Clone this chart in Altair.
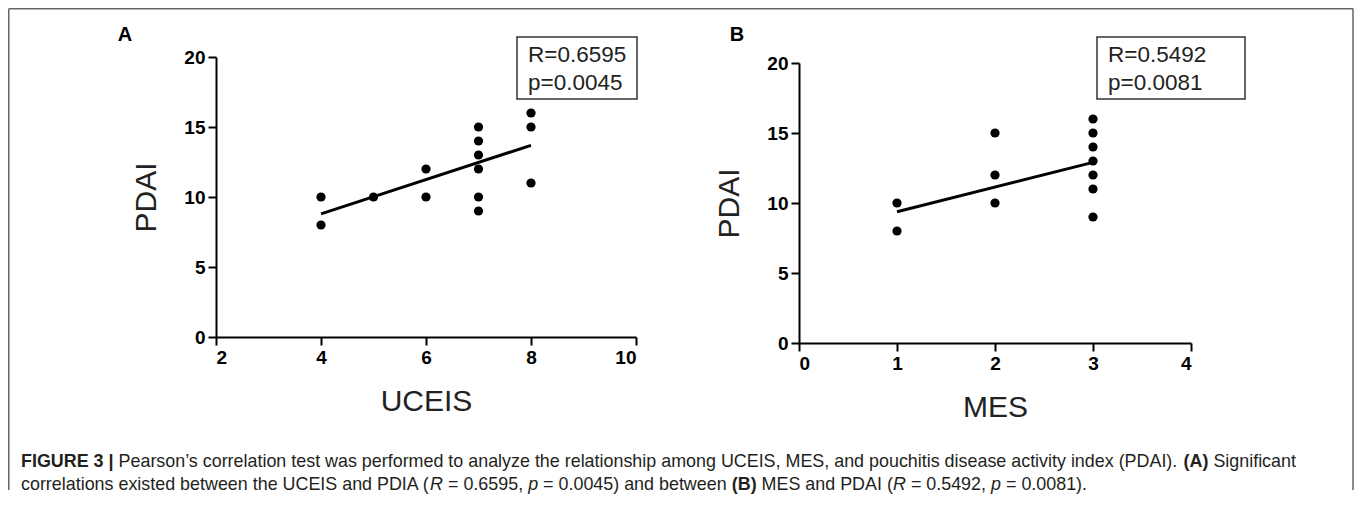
import altair as alt
import pandas as pd

# ---------------- data ----------------
uceis = [4, 4, 5, 6, 6, 7, 7, 7, 7, 7, 7, 8, 8, 8]
pdai_a = [10, 8, 10, 12, 10, 15, 14, 13, 12, 10, 9, 16, 15, 11]
fit_a_x = [4, 8]
fit_a_y = [8.79, 13.69]

mes = [1, 1, 2, 2, 2, 3, 3, 3, 3, 3, 3, 3]
pdai_b = [10, 8, 15, 12, 10, 16, 15, 14, 13, 12, 11, 9]
fit_b_x = [1, 3]
fit_b_y = [9.38, 12.9]

stats_a = ["R=0.6595", "p=0.0045"]
stats_b = ["R=0.5492", "p=0.0081"]

ticks_a_x = [2, 4, 6, 8, 10]
ticks_b_x = [0, 1, 2, 3, 4]
ticks_y = [0, 5, 10, 15, 20]

caption_line1 = [
    ("FIGURE 3 |", "b"),
    (" Pearson\u2019s correlation test was performed to analyze the relationship among UCEIS, MES, and pouchitis disease activity index (PDAI). ", "n"),
    ("(A)", "b"),
    (" Significant", "n"),
]
caption_line2 = [
    ("correlations existed between the UCEIS and PDIA (", "n"),
    ("R", "i"),
    (" = 0.6595, ", "n"),
    ("p", "i"),
    (" = 0.0045) and between ", "n"),
    ("(B)", "b"),
    (" MES and PDAI (", "n"),
    ("R", "i"),
    (" = 0.5492, ", "n"),
    ("p", "i"),
    (" = 0.0081).", "n"),
]

FONT = "Liberation Sans"

# Arial / Liberation Sans advance widths (1/1000 em) for caption layout
REG = {" ": 278, "a": 556, "b": 556, "c": 500, "d": 556, "e": 556, "f": 278, "g": 556, "h": 556,
       "i": 222, "j": 222, "k": 500, "l": 222, "m": 833, "n": 556, "o": 556, "p": 556, "q": 556,
       "r": 333, "s": 500, "t": 278, "u": 556, "v": 500, "w": 722, "x": 500, "y": 500, "z": 500,
       "A": 667, "B": 667, "C": 722, "D": 722, "E": 667, "F": 611, "G": 778, "H": 722, "I": 278,
       "J": 500, "K": 667, "L": 556, "M": 833, "N": 722, "O": 778, "P": 667, "Q": 778, "R": 722,
       "S": 667, "T": 611, "U": 722, "V": 667, "W": 944, "X": 667, "Y": 667, "Z": 611,
       "(": 333, ")": 333, ",": 278, ".": 278, "=": 584, "|": 260, "\u2019": 222, "'": 191, "-": 333}
BOLD = {" ": 278, "A": 722, "B": 722, "C": 722, "D": 722, "E": 667, "F": 611, "G": 778, "H": 722,
        "I": 278, "R": 722, "S": 667, "U": 722, "(": 333, ")": 333, "|": 280}


def em_width(s, style):
    table = BOLD if style == "b" else REG
    return sum(table.get(c, 556) for c in s) / 1000.0


# ---------------- layout (pixels) ----------------
A_W, A_H = 420, 280
B_W, B_H = 392, 286
B_YRANGE = [286, 6]
SPACING = 163

CAP_X0 = -195          # relative to panel A plot origin
CAP_Y1, CAP_Y2 = 405, 428
CAP_TARGET = 1275
cap_size = CAP_TARGET / sum(em_width(t, s) for t, s in caption_line1)

axis_x = dict(domainColor="black", domainWidth=2, tickColor="black", tickWidth=2, tickSize=8,
              labelFont=FONT, labelFontSize=19, labelFontWeight="bold", labelColor="black",
              labelPadding=3, titleFont=FONT, titleFontSize=30, titleFontWeight="normal",
              titleColor="#222", grid=False, titlePadding=19)
axis_y = dict(axis_x, titlePadding=22)


def none_data():
    return alt.Data(values=[{}])


def txt(text, x, y, size, weight="normal", style="normal", color="#222", align="left",
        baseline="middle"):
    return alt.Chart(none_data()).mark_text(
        font=FONT, fontSize=size, fontWeight=weight, fontStyle=style, color=color,
        align=align, baseline=baseline
    ).encode(x=alt.value(x), y=alt.value(y), text=alt.value(text))


def caption_layers(segments, y, size):
    out = []
    cur = CAP_X0
    for t, s in segments:
        lead = len(t) - len(t.lstrip(" "))
        x = cur + em_width(" " * lead, s) * size
        out.append(txt(t.strip(" "), x, y, size,
                       weight="bold" if s == "b" else "normal",
                       style="italic" if s == "i" else "normal",
                       color="#231f20"))
        cur += em_width(t, s) * size
    return out


def panel(xs, ys, fx, fy, xdomain, xticks, xtitle, width, height, yrange, stats, box, label,
          label_xy, extra=()):
    df = pd.DataFrame({"x": xs, "y": ys})
    fdf = pd.DataFrame({"x": fx, "y": fy})
    yscale = alt.Scale(domain=[0, 20], nice=False, zero=False)
    if yrange is not None:
        yscale = alt.Scale(domain=[0, 20], nice=False, zero=False, range=yrange)
    xenc = alt.X("x:Q", scale=alt.Scale(domain=xdomain, nice=False, zero=False),
                 axis=alt.Axis(values=xticks, title=xtitle, format="d", **axis_x))
    yenc = alt.Y("y:Q", scale=yscale,
                 axis=alt.Axis(values=ticks_y, title="PDAI", format="d", **axis_y))
    pts = alt.Chart(df).mark_circle(size=85, color="black", opacity=1).encode(x=xenc, y=yenc)
    fit = alt.Chart(fdf).mark_line(color="black", strokeWidth=3).encode(x=xenc, y=yenc)
    bx0, bx1, by0, by1 = box
    rect = alt.Chart(none_data()).mark_rect(
        fillOpacity=0, stroke="#333", strokeWidth=1.5
    ).encode(x=alt.value(bx0), x2=alt.value(bx1), y=alt.value(by0), y2=alt.value(by1))
    t1 = txt(stats[0], bx0 + 11, by0 + 18, 22.5)
    t2 = txt(stats[1], bx0 + 11, by0 + 46, 22.5)
    lab = txt(label, label_xy[0], label_xy[1], 20, weight="bold", color="black", align="center")
    return alt.layer(*extra, pts, fit, rect, t1, t2, lab).properties(width=width, height=height)


# frame around the figure (relative to panel A plot origin)
FL, FT, FR, FB = -207.25, -48.25, 1137.0, 433
frame = [
    alt.Chart(none_data()).mark_rule(color="#666", strokeWidth=1.5).encode(
        x=alt.value(FL), y=alt.value(FT), y2=alt.value(FB)),
    alt.Chart(none_data()).mark_rule(color="#666", strokeWidth=1.5).encode(
        x=alt.value(FR), y=alt.value(FT), y2=alt.value(FB)),
    alt.Chart(none_data()).mark_rule(color="#666", strokeWidth=1.5).encode(
        x=alt.value(FL), x2=alt.value(FR), y=alt.value(FT)),
]
caption = caption_layers(caption_line1, CAP_Y1, cap_size) + caption_layers(caption_line2, CAP_Y2, cap_size)

panel_a = panel(uceis, pdai_a, fit_a_x, fit_a_y, [2, 10], ticks_a_x, "UCEIS", A_W, A_H, None,
                stats_a, (301, 421, -20, 42), "A", (-91, -22), extra=frame + caption)
panel_b = panel(mes, pdai_b, fit_b_x, fit_b_y, [0, 4], ticks_b_x, "MES", B_W, B_H, B_YRANGE,
                stats_b, (298, 446, -20, 42), "B", (-62, -22))

chart = alt.hconcat(
    panel_a, panel_b, spacing=SPACING, bounds="flush", padding=0, background="white"
).configure_view(stroke=None)

chart.save("out.html", embed_options={"renderer": "svg", "actions": False})
